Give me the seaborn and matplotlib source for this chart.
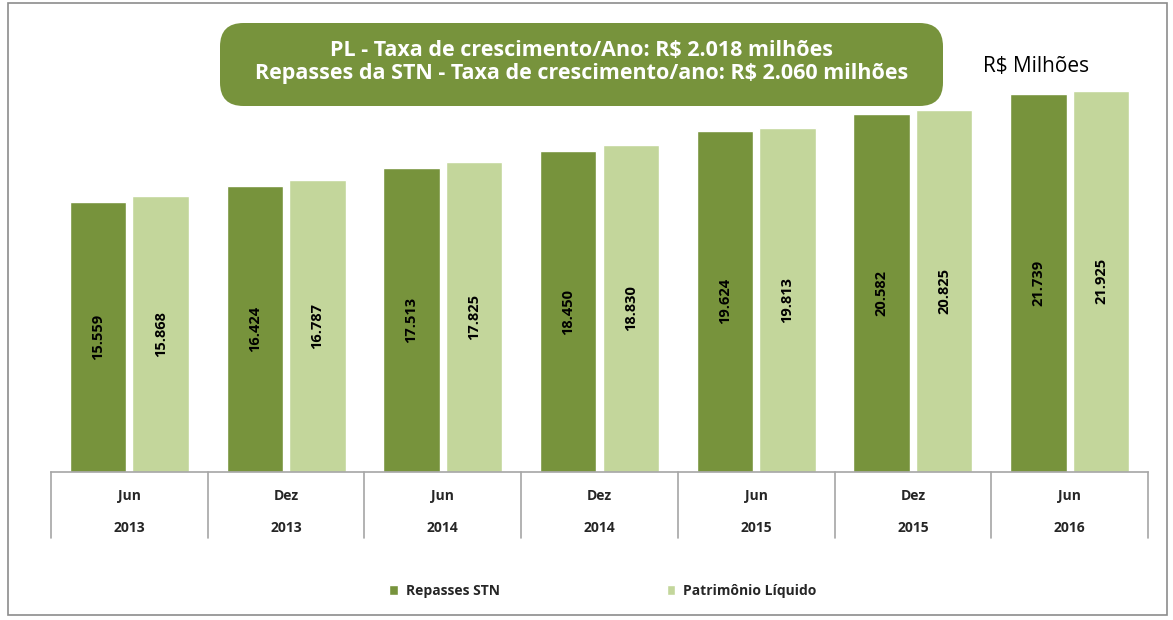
import matplotlib
matplotlib.use("Agg")
import matplotlib.pyplot as plt
import matplotlib.transforms as mtransforms
from matplotlib.patches import Rectangle, FancyBboxPatch
import seaborn as sns
import pandas as pd

months = ["Jun", "Dez", "Jun", "Dez", "Jun", "Dez", "Jun"]
years = ["2013", "2013", "2014", "2014", "2015", "2015", "2016"]
repasses_stn = [15559, 16424, 17513, 18450, 19624, 20582, 21739]
patrimonio_liquido = [15868, 16787, 17825, 18830, 19813, 20825, 21925]
series_names = ["Repasses STN", "Patrimônio Líquido"]
title_lines = ["PL - Taxa de crescimento/Ano: R$ 2.018 milhões",
               "Repasses da STN - Taxa de crescimento/ano: R$ 2.060 milhões"]
unit_label = "R$ Milhões"

dark = "#77933c"
light = "#c3d69b"

sns.set_theme(style="white")
plt.rcParams["font.family"] = ["Open Sans", "DejaVu Sans"]

periods = [f"{m}\n{y}" for m, y in zip(months, years)]
rows = []
for i, p in enumerate(periods):
    rows.append({"periodo": p, "serie": series_names[0], "valor": repasses_stn[i]})
    rows.append({"periodo": p, "serie": series_names[1], "valor": patrimonio_liquido[i]})
df = pd.DataFrame(rows)

fig = plt.figure(figsize=(11.73, 6.2), dpi=100)
ax = fig.add_axes([51/1173, 1 - 472/620, (1148-51)/1173, (472-20)/620])

sns.barplot(data=df, x="periodo", y="valor", hue="serie", order=periods,
            hue_order=series_names, palette=[dark, light], width=0.8, gap=0.1,
            saturation=1, ax=ax, legend=True)

ax.set_xlim(-0.5, len(periods) - 0.5)
ax.set_ylim(0, 26000)
ax.set_xlabel("")
ax.set_ylabel("")
ax.set_yticks([])
ax.set_xticks([])
for s in ["top", "right", "left"]:
    ax.spines[s].set_visible(False)
ax.spines["bottom"].set_color("#a6a6a6")
ax.spines["bottom"].set_linewidth(1.2)

# value labels inside bars
for cont in ax.containers:
    for bar in cont:
        h = bar.get_height()
        ax.text(bar.get_x() + bar.get_width()/2, h/2, f"{h/1000:.3f}",
                rotation=90, ha="center", va="center", fontsize=10.5,
                fontweight="bold", color="black")

# category table-like axis
trans = mtransforms.blended_transform_factory(ax.transData, ax.transAxes)
depth = (538 - 472) / 452
for k in range(len(periods) + 1):
    ax.plot([k - 0.5, k - 0.5], [0, -depth], transform=trans, color="#a6a6a6",
            lw=1.2, clip_on=False)
for k, (m, y) in enumerate(zip(months, years)):
    ax.text(k, -24/452, m, transform=trans, ha="center", va="center",
            fontsize=10, fontweight="bold")
    ax.text(k, -56/452, y, transform=trans, ha="center", va="center",
            fontsize=10, fontweight="bold")

# legend
handles, labels = ax.get_legend_handles_labels()
ax.legend_.remove()
leg = fig.legend(handles, labels, loc="center", ncol=2,
                 bbox_to_anchor=(603/1173, 1 - 591/620), frameon=False,
                 prop={"size": 10, "weight": "bold"}, handlelength=0.6,
                 handleheight=0.7, handletextpad=0.6, columnspacing=12.0)

# outer border
fig.patches.append(Rectangle((8/1173, 1 - 615/620), (1167-8)/1173, (615-3)/620,
                             transform=fig.transFigure, fill=False,
                             edgecolor="#8c8c8c", lw=1.2))

# title box
fig.patches.append(FancyBboxPatch((220/1173, 1 - 106/620), (943-220)/1173, (106-23)/620,
                                  boxstyle="round,pad=0,rounding_size=0.02",
                                  transform=fig.transFigure, facecolor=dark,
                                  edgecolor="none", mutation_aspect=1173/620))
fig.text(582/1173, 1 - 51/620, title_lines[0], ha="center", va="center",
         color="white", fontsize=15.5, fontweight="bold")
fig.text(582/1173, 1 - 74/620, title_lines[1], ha="center", va="center",
         color="white", fontsize=15.5, fontweight="bold")

fig.text(1036/1173, 1 - 67/620, unit_label, ha="center", va="center",
         fontsize=15, color="black")

fig.savefig("out.png", dpi=100)
